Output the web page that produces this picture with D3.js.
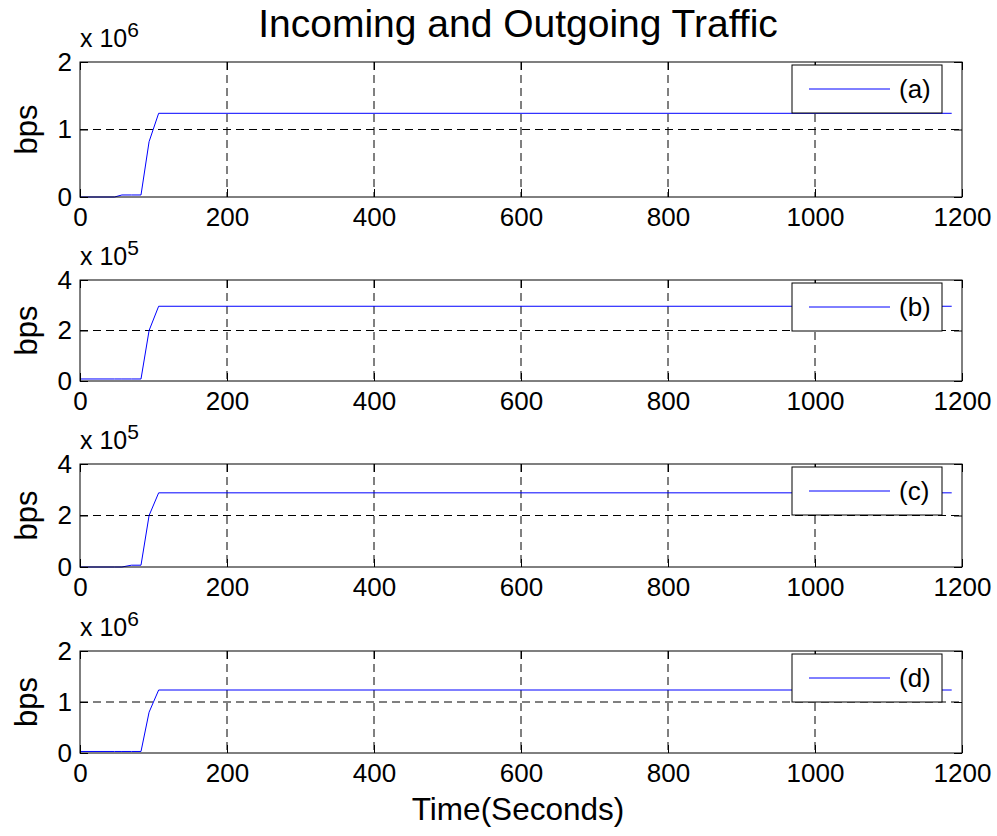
<!DOCTYPE html>
<html>
<head>
<meta charset="utf-8">
<script src="https://cdn.jsdelivr.net/npm/d3@7"></script>
<style>
  body { margin: 0; background: #fff; }
  svg { font-family: "Liberation Sans", Arial, Helvetica, sans-serif; }
</style>
</head>
<body>
<div id="chart"></div>
<script>
// Time breakpoints (seconds) shared by all four traces
const time = [0, 47, 57, 70, 83, 94, 107, 1186];

// Traffic values in units of the panel's exponent (x 10^n)
const seriesA = [0, 0, 0.03, 0.03, 0.03, 0.82, 1.24, 1.24];       // x 10^6
const seriesB = [0.08, 0.08, 0.08, 0.08, 0.08, 2.0, 2.96, 2.96];  // x 10^5
const seriesC = [0, 0, 0, 0.07, 0.07, 2.0, 2.88, 2.88];           // x 10^5
const seriesD = [0.03, 0.03, 0.03, 0.03, 0.03, 0.8, 1.235, 1.235]; // x 10^6

const legendNames = ["(a)", "(b)", "(c)", "(d)"];
const exponents = [6, 5, 5, 6];
const yMax = [2, 4, 4, 2];
const yTicks = [[0, 1, 2], [0, 2, 4], [0, 2, 4], [0, 1, 2]];
const xTicks = [0, 200, 400, 600, 800, 1000, 1200];

const title = "Incoming and Outgoing Traffic";
const xTitle = "Time(Seconds)";
const yTitle = "bps";

(function () {
  const W = 997, H = 836;
  const left = 80, right = 962;
  // panel top / bottom pixel rows
  const panels = [
    { top: 62, bottom: 197 },
    { top: 280, bottom: 381 },
    { top: 464, bottom: 567 },
    { top: 651, bottom: 753 }
  ];
  const allSeries = [seriesA, seriesB, seriesC, seriesD];
  const fmt = d3.format("d");

  const svg = d3.select("#chart").append("svg")
      .attr("width", W)
      .attr("height", H);

  const x = d3.scaleLinear().domain([0, 1200]).range([left, right]);

  panels.forEach((p, i) => {
    const y = d3.scaleLinear().domain([0, yMax[i]]).range([p.bottom, p.top]);
    const g = svg.append("g");

    // grid lines (dashed)
    g.append("g").selectAll("line")
        .data(xTicks.slice(1, -1))
        .join("line")
        .attr("x1", d => x(d)).attr("x2", d => x(d))
        .attr("y1", p.top).attr("y2", p.bottom)
        .attr("stroke", "#000").attr("stroke-width", 1)
        .attr("stroke-dasharray", "8,5");
    g.append("g").selectAll("line")
        .data(yTicks[i].slice(1, -1))
        .join("line")
        .attr("x1", left).attr("x2", right)
        .attr("y1", d => y(d)).attr("y2", d => y(d))
        .attr("stroke", "#000").attr("stroke-width", 1)
        .attr("stroke-dasharray", "8,5");

    // data line
    const pts = time.map((t, k) => [t, allSeries[i][k]]);
    g.append("path")
        .datum(pts)
        .attr("fill", "none")
        .attr("stroke", "#0000ff")
        .attr("stroke-width", 1)
        .attr("d", d3.line().x(d => x(d[0])).y(d => y(d[1])));

    // axes: ticks inward on all four sides
    const bottomAxis = g.append("g")
        .attr("transform", `translate(0,${p.bottom})`)
        .call(d3.axisBottom(x).tickValues(xTicks).tickFormat(fmt)
          .tickSizeInner(-8).tickSizeOuter(0).tickPadding(11));
    g.append("g")
        .attr("transform", `translate(0,${p.top})`)
        .call(d3.axisTop(x).tickValues(xTicks).tickSizeInner(-8).tickSizeOuter(0).tickFormat(""));
    const leftAxis = g.append("g")
        .attr("transform", `translate(${left},0)`)
        .call(d3.axisLeft(y).tickValues(yTicks[i]).tickFormat(fmt)
          .tickSizeInner(-8).tickSizeOuter(0).tickPadding(8));
    g.append("g")
        .attr("transform", `translate(${right},0)`)
        .call(d3.axisRight(y).tickValues(yTicks[i]).tickSizeInner(-8).tickSizeOuter(0).tickFormat(""));

    g.selectAll(".domain").remove();
    g.selectAll(".tick line").attr("stroke", "#000");
    [bottomAxis, leftAxis].forEach(a => a.selectAll(".tick text")
        .attr("fill", "#000")
        .style("font-size", "26px")
        .style("font-family", "'Liberation Sans', Arial, sans-serif"));

    // box
    g.append("rect")
        .attr("x", left).attr("y", p.top)
        .attr("width", right - left).attr("height", p.bottom - p.top)
        .attr("fill", "none").attr("stroke", "#000").attr("stroke-width", 1);

    // exponent label
    const ex = g.append("text")
        .attr("x", left)
        .attr("y", p.top - 15)
        .style("font-size", "25px");
    ex.append("tspan").text("x 10");
    ex.append("tspan").attr("dy", -10).style("font-size", "21px").text(exponents[i]);

    // y label
    g.append("text")
        .attr("transform", `translate(37,${(p.top + p.bottom) / 2}) rotate(-90)`)
        .attr("text-anchor", "middle")
        .style("font-size", "31px")
        .text(yTitle);

    // legend
    const lg = g.append("g").attr("transform", `translate(792,${p.top + 3})`);
    lg.append("rect")
        .attr("width", 150).attr("height", 48)
        .attr("fill", "#fff").attr("stroke", "#000").attr("stroke-width", 1);
    lg.append("line")
        .attr("x1", 17).attr("x2", 98)
        .attr("y1", 24).attr("y2", 24)
        .attr("stroke", "#0000ff").attr("stroke-width", 1);
    lg.append("text")
        .attr("x", 107).attr("y", 33)
        .style("font-size", "26px")
        .text(legendNames[i]);
  });

  // title
  svg.append("text")
      .attr("x", 518).attr("y", 37)
      .attr("text-anchor", "middle")
      .style("font-size", "39px")
      .text(title);

  // x axis title
  svg.append("text")
      .attr("x", 518).attr("y", 820)
      .attr("text-anchor", "middle")
      .style("font-size", "31.5px")
      .text(xTitle);
})();
</script>
</body>
</html>
